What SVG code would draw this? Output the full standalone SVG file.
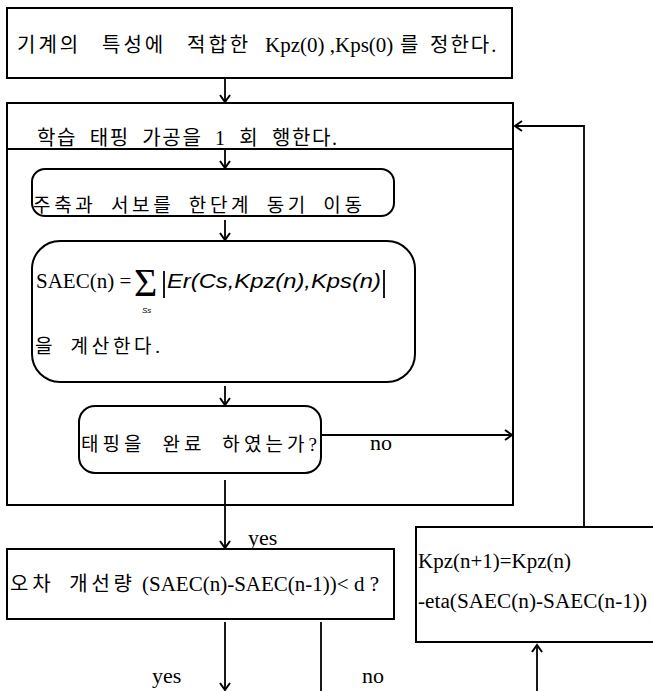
<svg xmlns="http://www.w3.org/2000/svg" width="653" height="691" viewBox="0 0 653 691">
<style>
.box{fill:none;stroke:#000;stroke-width:2}
.ln{fill:none;stroke:#000;stroke-width:1.8}
.kr{font-family:"Liberation Serif","Noto Sans CJK KR",serif;fill:#000}
.lat{font-family:"Liberation Serif",serif;fill:#000}
.it{font-family:"Liberation Sans",sans-serif;font-style:italic;fill:#000}
</style>
<defs>
<marker id="ah" markerWidth="12" markerHeight="12" refX="9" refY="6" orient="auto" markerUnits="userSpaceOnUse">
<path d="M2,1 L9,6 L2,11" fill="none" stroke="#000" stroke-width="2"/>
</marker>
</defs>
<rect width="653" height="691" fill="#fff"/>
<g id="n1">
<rect class="box" x="7" y="8" width="505" height="70"/>
<text class="kr" y="52" style="font-size:20px"><tspan x="17" style="letter-spacing:3px">기계의</tspan><tspan x="102" style="letter-spacing:3px">특성에</tspan><tspan x="187" style="letter-spacing:3px">적합한</tspan><tspan x="265" style="font-family:'Liberation Serif',serif;font-size:21px">Kpz(0) ,Kps(0)</tspan><tspan x="400">를</tspan><tspan x="430" style="letter-spacing:2px">정한다.</tspan></text>
</g>
<g id="n2">
<rect class="box" x="7" y="103" width="506" height="402"/>
<line class="box" x1="7" y1="149" x2="513" y2="149"/>
<text class="kr" x="37" y="145" style="font-size:20px;word-spacing:6px" textLength="300" lengthAdjust="spacing">학습 태핑 가공을 1 회 행한다.</text>
</g>
<g id="n3">
<rect class="box" x="32" y="169" width="362" height="47" rx="13"/>
<text class="kr" x="33" y="212" style="font-size:19px;word-spacing:6px" textLength="329" lengthAdjust="spacing">주축과 서보를 한단계 동기 이동</text>
</g>
<g id="n4">
<rect class="box" x="32" y="241" width="383" height="141" rx="28"/>
<text class="lat" x="36" y="288" style="font-size:21px">SAEC(n) =</text>
<text class="lat" x="134" y="296" style="font-size:40px">Σ</text>
<text class="it" x="142" y="313" style="font-size:8px">Ss</text>
<line class="ln" x1="164" y1="271" x2="164" y2="298"/>
<text class="it" x="167" y="288" style="font-size:20px" textLength="214" lengthAdjust="spacingAndGlyphs">Er(Cs,Kpz(n),Kps(n)</text>
<line class="ln" x1="384" y1="270" x2="384" y2="298"/>
<text class="kr" x="35" y="353" style="font-size:19px;word-spacing:6px" textLength="125" lengthAdjust="spacing">을 계산한다.</text>
</g>
<g id="n5">
<rect class="box" x="79" y="406" width="242" height="67" rx="16"/>
<text class="kr" x="81" y="451" style="font-size:19px;word-spacing:8px" textLength="236" lengthAdjust="spacing">태핑을 완료 하였는가?</text>
</g>
<g id="n6">
<rect class="box" x="7" y="549" width="387" height="70"/>
<text class="kr" x="10" y="591" style="font-size:20px;word-spacing:6px" textLength="122" lengthAdjust="spacing">오차 개선량</text>
<text class="lat" x="142" y="591" style="font-size:21px">(SAEC(n)-SAEC(n-1))&lt; d ?</text>
</g>
<g id="n7">
<path class="box" d="M655,527 L416,527 L416,642 L655,642"/>
<text class="lat" x="418" y="568" style="font-size:20px" textLength="153" lengthAdjust="spacingAndGlyphs">Kpz(n+1)=Kpz(n)</text>
<text class="lat" x="418" y="608" style="font-size:20px" textLength="229" lengthAdjust="spacingAndGlyphs">-eta(SAEC(n)-SAEC(n-1))</text>
</g>
<g id="connectors">
<line class="ln" x1="225" y1="78" x2="225" y2="102" marker-end="url(#ah)"/>
<line class="ln" x1="225" y1="149" x2="225" y2="168" marker-end="url(#ah)"/>
<line class="ln" x1="225" y1="220" x2="225" y2="240" marker-end="url(#ah)"/>
<line class="ln" x1="225" y1="386" x2="225" y2="405" marker-end="url(#ah)"/>
<line class="ln" x1="321" y1="435" x2="512" y2="435" marker-end="url(#ah)"/>
<line class="ln" x1="225" y1="480" x2="225" y2="548" marker-end="url(#ah)"/>
<polyline class="ln" points="584,527 584,126 515,126" marker-end="url(#ah)"/>
<line class="ln" x1="225" y1="622" x2="225" y2="690" marker-end="url(#ah)"/>
<line class="ln" x1="321" y1="622" x2="321" y2="691"/>
<line class="ln" x1="537" y1="691" x2="537" y2="645" marker-end="url(#ah)"/>
<text class="lat" x="370" y="450" style="font-size:22px">no</text>
<text class="lat" x="248" y="545" style="font-size:22px">yes</text>
<text class="lat" x="152" y="683" style="font-size:22px">yes</text>
<text class="lat" x="362" y="683" style="font-size:22px">no</text>
</g>
</svg>
